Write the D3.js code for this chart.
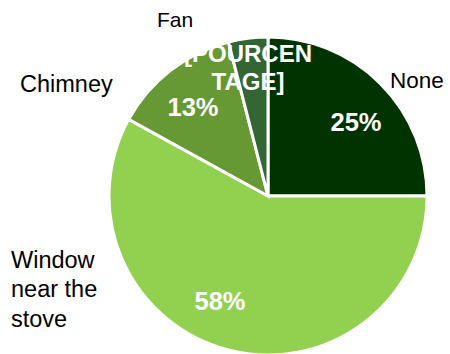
<!DOCTYPE html>
<html>
<head>
<meta charset="utf-8">
<script src="https://cdn.jsdelivr.net/npm/d3@7"></script>
<style>
	html, body { margin: 0; padding: 0; background: #fff; }
	svg { display: block; font-family: "Liberation Sans", Arial, sans-serif; }
</style>
</head>
<body>
<div id="graphic"></div>
<script>
// chart data
const categories = ["None", "Window near the stove", "Chimney", "Fan"];
const values = [25, 58, 13, 4];
const valueLabels = ["25%", "58%", "13%", "[POURCENTAGE]"];
const colours = ["#003300", "#92d050", "#669933", "#336633"];

// label lines for wrapped text
const categoryLines = [["None"], ["Window", "near the", "stove"], ["Chimney"], ["Fan"]];
const valueLines = [["25%"], ["58%"], ["13%"], ["[POURCEN", "TAGE]"]];

const width = 450, height = 354;
const cx = 268, cy = 196, radius = 159;

// manual label placement (Excel-style), offsets from pie centre
const catOffset = [[122, -116], [-257, 93], [-248, -112], [-111, -176]];
const catSize = [22.5, 23.5, 23.5, 21];
const valOffset = [[88, -74], [-48, 105], [-75, -89], [-20, -128]];
const valSize = [25.5, 25.5, 25.5, 24];

let svg = d3.select('#graphic')
	.append('svg')
	.attr('width', width)
	.attr('height', height);

let g = svg.append('g').attr('transform', `translate(${cx},${cy})`);

const pie = d3.pie().sort(null).value((d) => d);
const arc = d3.arc().innerRadius(0).outerRadius(radius);
const arcs = pie(values);

g.selectAll('path')
	.data(arcs)
	.join('path')
	.attr('d', arc)
	.attr('fill', (d, i) => colours[i])
	.attr('stroke', '#fff')
	.attr('stroke-width', 3)
	.attr('stroke-linejoin', 'miter');

// value labels (white, bold)
g.selectAll('text.val')
	.data(arcs)
	.join('text')
	.attr('class', 'val')
	.attr('text-anchor', 'middle')
	.attr('fill', '#fff')
	.attr('font-weight', 'bold')
	.attr('font-size', (d, i) => valSize[i])
	.each(function (d, i) {
		let lines = valueLines[i];
		let lh = 28;
		let y0 = valOffset[i][1] - (lines.length - 1) * lh / 2;
		d3.select(this).selectAll('tspan')
			.data(lines)
			.join('tspan')
			.attr('x', valOffset[i][0])
			.attr('y', (l, j) => y0 + j * lh)
			.attr('dy', '0.35em')
			.text((l) => l);
	});

// category labels
g.selectAll('text.cat')
	.data(arcs)
	.join('text')
	.attr('class', 'cat')
	.attr('text-anchor', 'start')
	.attr('fill', '#000')
	.attr('font-size', (d, i) => catSize[i])
	.each(function (d, i) {
		let lines = categoryLines[i];
		let lh = 29.5;
		let y0 = catOffset[i][1] - (lines.length - 1) * lh / 2;
		d3.select(this).selectAll('tspan')
			.data(lines)
			.join('tspan')
			.attr('x', catOffset[i][0])
			.attr('y', (l, j) => y0 + j * lh)
			.attr('dy', '0.35em')
			.text((l) => l);
	});
</script>
</body>
</html>
